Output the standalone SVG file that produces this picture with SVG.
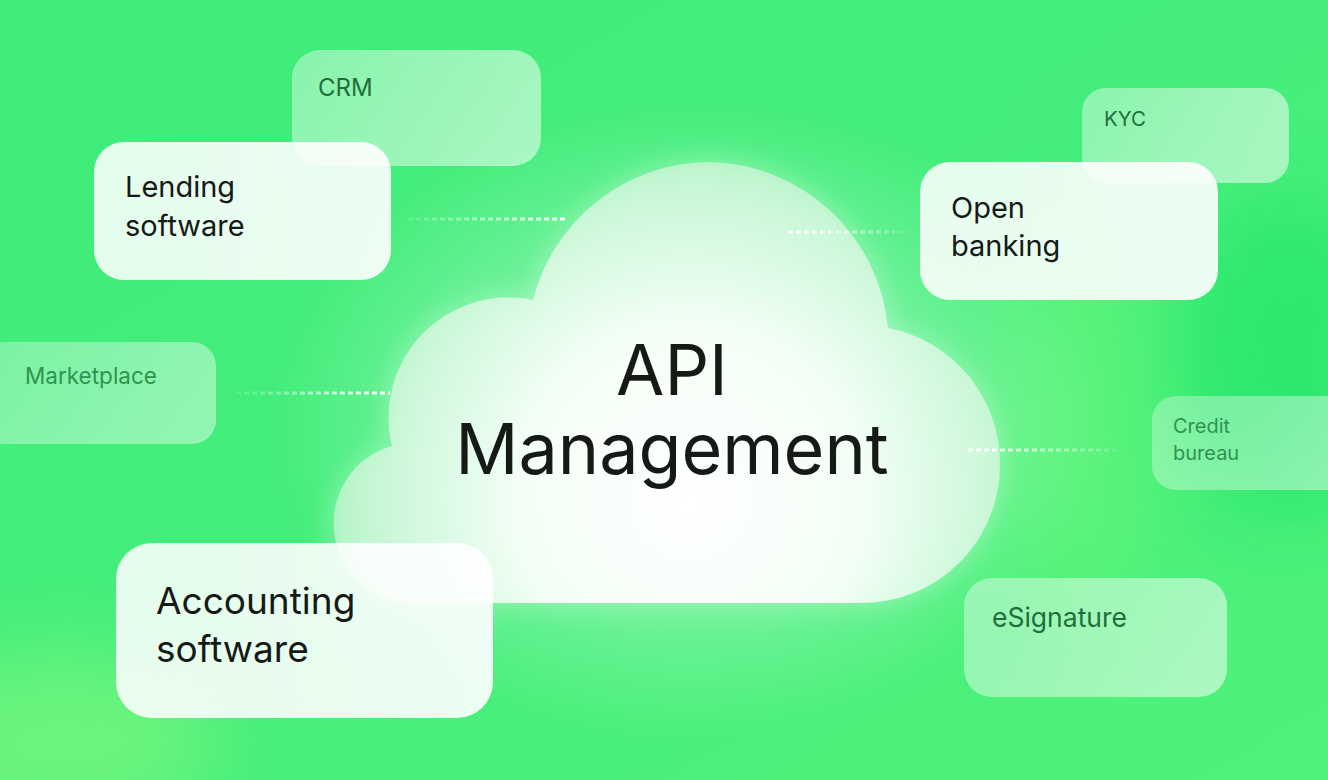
<svg xmlns="http://www.w3.org/2000/svg" width="1328" height="780" viewBox="0 0 1328 780">
<defs>
<style>
.t-dark{font-family:Inter,"Liberation Sans",sans-serif;fill:#151a17}
.t-mid{font-family:Inter,"Liberation Sans",sans-serif;fill:#1f6e3c}
.t-soft{font-family:Inter,"Liberation Sans",sans-serif;fill:#2f9350}
.box-solid{fill:url(#solidBox)}
.box-glass{fill:url(#glassBox)}
.box-faint{fill:url(#faintBox)}
.dots{fill:none;stroke-width:3;stroke-dasharray:5 3}
</style>
<linearGradient id="bg" x1="0" y1="0" x2="1" y2="1">
<stop offset="0" stop-color="#3fec79"/>
<stop offset="0.5" stop-color="#45ee7c"/>
<stop offset="1" stop-color="#4ff27a"/>
</linearGradient>
<linearGradient id="solidBox" x1="0" y1="0" x2="1" y2="0">
<stop offset="0" stop-color="#ffffff" stop-opacity="0.86"/>
<stop offset="1" stop-color="#ffffff" stop-opacity="0.9"/>
</linearGradient>
<linearGradient id="glassBox" x1="0" y1="0" x2="1" y2="0.3">
<stop offset="0" stop-color="#ffffff" stop-opacity="0.38"/>
<stop offset="1" stop-color="#ffffff" stop-opacity="0.52"/>
</linearGradient>
<linearGradient id="faintBox" x1="0" y1="0" x2="1" y2="0.3">
<stop offset="0" stop-color="#ffffff" stop-opacity="0.3"/>
<stop offset="1" stop-color="#ffffff" stop-opacity="0.42"/>
</linearGradient>
<radialGradient id="cloudFill" cx="690" cy="500" r="380" gradientUnits="userSpaceOnUse">
<stop offset="0" stop-color="#ffffff" stop-opacity="1"/>
<stop offset="0.45" stop-color="#f6fff8" stop-opacity="0.97"/>
<stop offset="0.8" stop-color="#d4f8de" stop-opacity="0.85"/>
<stop offset="1" stop-color="#b8f2c8" stop-opacity="0.8"/>
</radialGradient>
<radialGradient id="halo" cx="0.5" cy="0.5" r="0.5">
<stop offset="0" stop-color="#ffffff" stop-opacity="0.5"/>
<stop offset="0.6" stop-color="#ffffff" stop-opacity="0.22"/>
<stop offset="1" stop-color="#ffffff" stop-opacity="0"/>
</radialGradient>
<filter id="blur" x="-50%" y="-50%" width="200%" height="200%"><feGaussianBlur stdDeviation="40"/></filter>
<filter id="glow" x="-30%" y="-30%" width="160%" height="160%"><feGaussianBlur stdDeviation="14"/></filter>
<linearGradient id="gL1" gradientUnits="userSpaceOnUse" x1="408" y1="0" x2="568" y2="0">
<stop offset="0" stop-color="#ffffff" stop-opacity="0.1"/><stop offset="1" stop-color="#ffffff" stop-opacity="1"/>
</linearGradient>
<linearGradient id="gL2" gradientUnits="userSpaceOnUse" x1="236" y1="0" x2="390" y2="0">
<stop offset="0" stop-color="#ffffff" stop-opacity="0.1"/><stop offset="1" stop-color="#ffffff" stop-opacity="1"/>
</linearGradient>
<linearGradient id="gR1" gradientUnits="userSpaceOnUse" x1="788" y1="0" x2="910" y2="0">
<stop offset="0" stop-color="#ffffff" stop-opacity="1"/><stop offset="1" stop-color="#ffffff" stop-opacity="0.1"/>
</linearGradient>
<linearGradient id="gR2" gradientUnits="userSpaceOnUse" x1="968" y1="0" x2="1120" y2="0">
<stop offset="0" stop-color="#ffffff" stop-opacity="1"/><stop offset="1" stop-color="#ffffff" stop-opacity="0.1"/>
</linearGradient>
<path id="cloudShape" d="M415,603 A80,80 0 0 1 392,446 A120,120 0 0 1 533,300 A183,183 0 0 1 710,162 A183,183 0 0 1 888,328 A138,138 0 0 1 1000,465 A138,138 0 0 1 862,603 Z"/>
</defs>

<g id="background">
<rect width="1328" height="780" fill="url(#bg)"/>
<ellipse cx="1290" cy="360" rx="120" ry="160" fill="#1fe368" opacity="0.6" filter="url(#blur)"/>
<ellipse cx="60" cy="740" rx="160" ry="90" fill="#7cf77f" opacity="0.7" filter="url(#blur)"/>
<ellipse cx="1080" cy="420" rx="80" ry="200" fill="#6cf77c" opacity="0.5" filter="url(#blur)"/>
<ellipse cx="690" cy="420" rx="420" ry="320" fill="url(#halo)"/>
</g>

<g id="cloud">
<use href="#cloudShape" fill="#ffffff" opacity="0.35" filter="url(#glow)"/>
<use href="#cloudShape" fill="url(#cloudFill)"/>
<text class="t-dark" x="672" y="395" font-size="70" text-anchor="middle">API</text>
<text class="t-dark" x="672" y="474" font-size="70" text-anchor="middle">Management</text>
</g>

<g id="connectors">
<line class="dots" x1="408" y1="219" x2="568" y2="219" stroke="url(#gL1)"/>
<line class="dots" x1="236" y1="393" x2="390" y2="393" stroke="url(#gL2)"/>
<line class="dots" x1="788" y1="232" x2="910" y2="232" stroke="url(#gR1)"/>
<line class="dots" x1="968" y1="450" x2="1120" y2="450" stroke="url(#gR2)"/>
</g>

<g id="crm">
<rect class="box-glass" x="292" y="50" width="249" height="116" rx="28"/>
<text class="t-mid" x="318" y="96" font-size="24">CRM</text>
</g>

<g id="lending">
<rect class="box-solid" x="94" y="142" width="297" height="138" rx="30"/>
<text class="t-dark" x="125" y="197" font-size="29">Lending</text>
<text class="t-dark" x="125" y="236" font-size="29">software</text>
</g>

<g id="marketplace">
<rect class="box-faint" x="-20" y="342" width="236" height="102" rx="24"/>
<text class="t-soft" x="25" y="384" font-size="22.5">Marketplace</text>
</g>

<g id="kyc">
<rect class="box-glass" x="1082" y="88" width="207" height="95" rx="24"/>
<text class="t-mid" x="1104" y="126" font-size="20.5">KYC</text>
</g>

<g id="open-banking">
<rect class="box-solid" x="920" y="162" width="298" height="138" rx="30"/>
<text class="t-dark" x="951" y="218" font-size="29">Open</text>
<text class="t-dark" x="951" y="256" font-size="29">banking</text>
</g>

<g id="credit-bureau">
<rect class="box-faint" x="1152" y="396" width="200" height="94" rx="24"/>
<text class="t-soft" x="1173" y="433" font-size="20">Credit</text>
<text class="t-soft" x="1173" y="460" font-size="20">bureau</text>
</g>

<g id="esignature">
<rect class="box-glass" x="964" y="578" width="263" height="119" rx="28"/>
<text class="t-mid" x="992" y="627" font-size="26.5">eSignature</text>
</g>

<g id="accounting">
<rect class="box-solid" x="116" y="543" width="377" height="175" rx="36"/>
<text class="t-dark" x="156" y="614" font-size="37">Accounting</text>
<text class="t-dark" x="156" y="662" font-size="37">software</text>
</g>
</svg>
